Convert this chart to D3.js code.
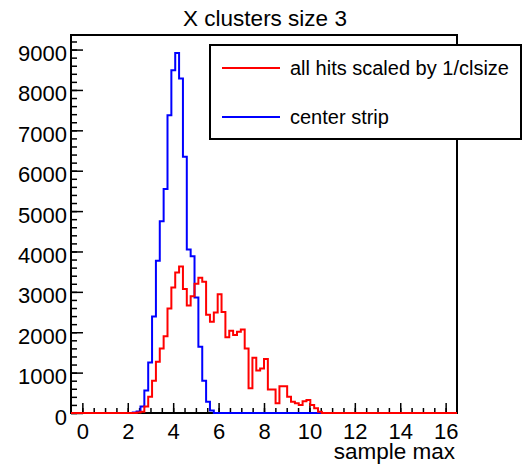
<!DOCTYPE html>
<html>
<head>
<meta charset="utf-8">
<script src="https://cdn.jsdelivr.net/npm/d3@7"></script>
<style>
  body { margin: 0; background: #fff; }
  svg { display: block; }
  .chart text { font-family: "Liberation Sans", Arial, Helvetica, sans-serif; fill: #000; }
</style>
</head>
<body>
<svg id="svg" class="chart" width="522" height="464"></svg>
<script>
// histogram binning: 100 bins from -0.5 to 16.5
const binLow = -0.5;
const binWidth = 0.17;

// counts per bin (bin 0 starts at -0.5)
const allHitsCounts = [
  0, 0, 0, 0, 0, 0, 0, 0, 0, 0,
  0, 0, 0, 0, 0, 0, 0, 15, 32, 160,
  400, 800, 1270, 1600, 1900, 2590, 3110, 3480, 3630, 3070,
  2660, 2890, 3200, 3350, 3250, 2430, 2260, 2490, 2940, 2500,
  1875, 2035, 1930, 2010, 2070, 1600, 615, 1370, 1050, 1105,
  1335, 580, 580, 240, 660, 660, 400, 280, 240, 200,
  290, 320, 200, 116, 32, 0, 0, 0, 0, 0,
  0, 0, 0, 0, 0, 0, 0, 0, 0, 0,
  0, 0, 0, 0, 0, 0, 0, 0, 0, 0,
  0, 0, 0, 0, 0, 0, 0, 0, 0, 0,
];
const centerStripCounts = [
  0, 0, 0, 0, 0, 0, 0, 0, 0, 0,
  0, 0, 0, 0, 0, 0, 10, 40, 160, 560,
  1250, 2390, 3770, 4750, 5545, 7375, 8490, 8915, 8285, 6345,
  4050, 3880, 2860, 1640, 800, 280, 60, 0, 0, 0,
  0, 0, 0, 0, 0, 0, 0, 0, 0, 0,
  0, 0, 0, 0, 0, 0, 0, 0, 0, 0,
  0, 0, 0, 0, 0, 0, 0, 0, 0, 0,
  0, 0, 0, 0, 0, 0, 0, 0, 0, 0,
  0, 0, 0, 0, 0, 0, 0, 0, 0, 0,
  0, 0, 0, 0, 0, 0, 0, 0, 0, 0,
];

const seriesNames = ['all hits scaled by 1/clsize', 'center strip'];
const seriesColors = ['#ff0000', '#0000ff'];
const xTicks = [0, 2, 4, 6, 8, 10, 12, 14, 16];
const yTicks = [0, 1000, 2000, 3000, 4000, 5000, 6000, 7000, 8000, 9000];
const titleText = 'X clusters size 3';
const xTitle = 'sample max';

const svg = d3.select('#svg');
const margin = { top: 35, right: 65, bottom: 51, left: 71 };
const width = +svg.attr('width') - margin.left - margin.right;
const height = +svg.attr('height') - margin.top - margin.bottom;
const xMax = binLow + binWidth * allHitsCounts.length;
const yMax = d3.max(centerStripCounts) * 1.05;

const x = d3.scaleLinear().domain([binLow, xMax]).range([0, width]);
const y = d3.scaleLinear().domain([0, yMax]).range([height, 0]);

const g = svg.append('g').attr('transform', `translate(${margin.left},${margin.top})`);

// frame
g.append('rect')
  .attr('width', width)
  .attr('height', height)
  .attr('fill', 'none')
  .attr('stroke', '#000')
  .attr('stroke-width', 2);

// minor ticks
g.append('g')
  .attr('transform', `translate(0,${height})`)
  .call(d3.axisBottom(x).tickValues(d3.range(0, xMax, 0.5)).tickSize(-5).tickFormat(''))
  .call(a => a.select('.domain').remove());
g.append('g')
  .call(d3.axisLeft(y).tickValues(d3.range(0, yMax, 200)).tickSize(-6).tickFormat(''))
  .call(a => a.select('.domain').remove());

// major ticks + labels
const gx = g.append('g')
  .attr('transform', `translate(0,${height})`)
  .call(d3.axisBottom(x).tickValues(xTicks).tickSize(-10).tickFormat(d3.format('d')));
gx.select('.domain').remove();
gx.selectAll('text').attr('y', 25.5).attr('dy', null).style('font-size', '22px');

const gy = g.append('g')
  .call(d3.axisLeft(y).tickValues(yTicks).tickSize(-12).tickFormat(d3.format('d')));
gy.select('.domain').remove();
gy.selectAll('text').attr('x', -4).attr('dy', null).attr('y', 11).style('font-size', '22px');
svg.selectAll('.tick line').attr('stroke', '#000').attr('stroke-width', 1.5);

// histograms
const histLine = d3.line()
  .x(d => x(d.x))
  .y(d => y(d.v))
  .curve(d3.curveStepAfter);

const toSteps = counts => {
  const pts = counts.map((v, i) => ({ x: binLow + i * binWidth, v }));
  pts.push({ x: xMax, v: counts[counts.length - 1] });
  return pts;
};

g.append('path')
  .datum(toSteps(centerStripCounts))
  .attr('fill', 'none')
  .attr('stroke', seriesColors[1])
  .attr('stroke-width', 2)
  .attr('d', histLine);
g.append('path')
  .datum(toSteps(allHitsCounts))
  .attr('fill', 'none')
  .attr('stroke', seriesColors[0])
  .attr('stroke-width', 2)
  .attr('d', histLine);

// title
svg.append('text')
  .attr('x', 265)
  .attr('y', 26)
  .attr('text-anchor', 'middle')
  .style('font-size', '22.5px')
  .text(titleText);

// x axis title
svg.append('text')
  .attr('x', 455)
  .attr('y', 459)
  .attr('text-anchor', 'end')
  .style('font-size', '22.5px')
  .text(xTitle);

// legend
const legend = svg.append('g').attr('transform', 'translate(210,45)');
legend.append('rect')
  .attr('width', 311)
  .attr('height', 94)
  .attr('fill', '#fff')
  .attr('stroke', '#000')
  .attr('stroke-width', 2);
seriesNames.forEach((name, i) => {
  const ly = 23 + i * 49;
  legend.append('line')
    .attr('x1', 12).attr('x2', 70)
    .attr('y1', ly).attr('y2', ly)
    .attr('stroke', seriesColors[i])
    .attr('stroke-width', 2);
  legend.append('text')
    .attr('x', 80)
    .attr('y', ly + 7)
    .style('font-size', '20px')
    .text(name);
});
</script>
</body>
</html>
